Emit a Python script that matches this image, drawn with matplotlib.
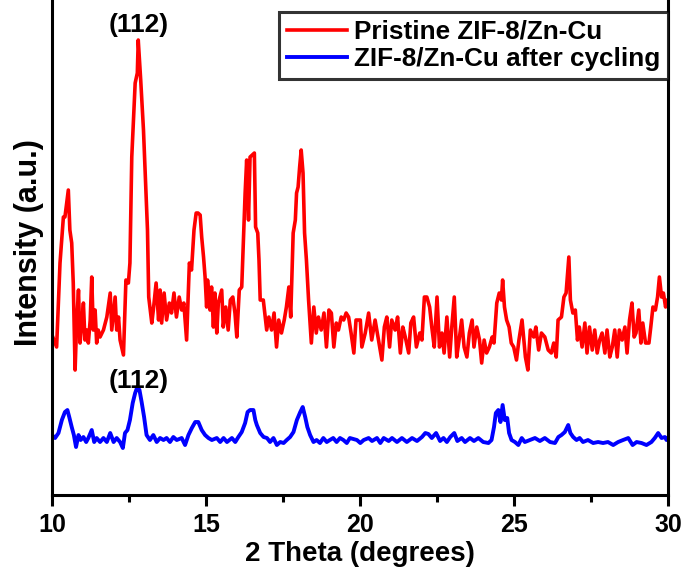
import numpy as np
import matplotlib
matplotlib.use('Agg')
import matplotlib.pyplot as plt
from matplotlib.ticker import MultipleLocator

# XRD patterns, 2 theta (deg) vs intensity (a.u.)
theta_pristine = [
    10.00, 10.15, 10.26, 10.37, 10.42, 10.53, 10.58, 10.64, 10.69, 10.75,
    10.80, 10.86, 10.91, 10.97, 11.02, 11.07, 11.13, 11.18, 11.24, 11.29,
    11.34, 11.40, 11.45, 11.50, 11.56, 11.67, 11.78, 11.89, 11.94, 12.05,
    12.10, 12.16, 12.21, 12.32, 12.40, 12.48, 12.53, 12.59, 12.70, 12.77,
    12.80, 12.88, 12.97, 13.05, 13.10, 13.14, 13.24, 13.29, 13.38, 13.46,
    13.51, 13.56, 13.64, 13.72, 13.81, 13.88, 13.96, 14.04, 14.13, 14.21,
    14.28, 14.37, 14.46, 14.53, 14.61, 14.68, 14.74, 14.81, 14.86, 14.92,
    14.97, 15.02, 15.05, 15.13, 15.18, 15.24, 15.29, 15.35, 15.40, 15.51,
    15.56, 15.64, 15.72, 15.79, 15.87, 15.94, 16.00, 16.08, 16.16, 16.21,
    16.27, 16.32, 16.38, 16.43, 16.50, 16.57, 16.61, 16.68, 16.72, 16.76,
    16.86, 16.97, 17.04, 17.13, 17.21, 17.29, 17.36, 17.45, 17.54, 17.61,
    17.69, 17.75, 17.83, 17.90, 17.94, 17.99, 18.04, 18.09, 18.15, 18.20,
    18.26, 18.33, 18.42, 18.50, 18.58, 18.65, 18.74, 18.83, 18.91, 18.99,
    19.07, 19.15, 19.23, 19.30, 19.39, 19.47, 19.55, 19.63, 19.71, 19.80,
    19.87, 20.01, 20.06, 20.17, 20.28, 20.38, 20.49, 20.60, 20.71, 20.79,
    20.87, 20.96, 21.03, 21.14, 21.22, 21.31, 21.39, 21.47, 21.58, 21.65,
    21.74, 21.83, 21.94, 22.01, 22.09, 22.17, 22.26, 22.33, 22.41, 22.50,
    22.58, 22.66, 22.73, 22.82, 22.91, 22.98, 23.06, 23.14, 23.23, 23.30,
    23.38, 23.47, 23.55, 23.64, 23.70, 23.79, 23.88, 23.95, 24.03, 24.11,
    24.20, 24.29, 24.35, 24.44, 24.52, 24.59, 24.63, 24.69, 24.76, 24.84,
    24.91, 24.99, 25.08, 25.16, 25.26, 25.37, 25.45, 25.53, 25.64, 25.71,
    25.80, 25.89, 26.00, 26.11, 26.21, 26.29, 26.37, 26.43, 26.54, 26.62,
    26.69, 26.78, 26.83, 26.91, 26.99, 27.06, 27.12, 27.21, 27.30, 27.37,
    27.45, 27.54, 27.62, 27.70, 27.78, 27.86, 27.95, 28.02, 28.11, 28.19,
    28.27, 28.35, 28.42, 28.51, 28.60, 28.67, 28.75, 28.83, 28.90, 28.96,
    29.05, 29.12, 29.18, 29.27, 29.38, 29.44, 29.51, 29.59, 29.66, 29.72,
    29.79, 29.85, 29.92, 29.97, 30.00,
]
int_pristine = [
    160, 148, 232, 278, 278, 305, 265, 252, 212, 125,
    172, 205, 152, 172, 192, 155, 165, 152, 175, 218,
    165, 185, 152, 165, 158, 165, 178, 202, 165, 198,
    165, 178, 155, 140, 215, 212, 232, 338, 412, 422,
    455, 415, 365, 305, 265, 198, 172, 185, 212, 175,
    205, 172, 202, 175, 192, 182, 202, 178, 198, 185,
    192, 155, 232, 225, 265, 282, 282, 280, 258, 238,
    218, 188, 215, 185, 208, 168, 202, 162, 192, 205,
    168, 188, 165, 195, 198, 182, 158, 205, 208, 252,
    302, 335, 275, 338, 340, 342, 268, 262, 235, 195,
    195, 165, 178, 165, 182, 148, 175, 162, 175, 188,
    208, 178, 262, 275, 302, 308, 328, 345, 322, 262,
    235, 195, 152, 188, 162, 178, 165, 182, 148, 185,
    182, 148, 172, 165, 178, 175, 182, 178, 162, 142,
    175, 175, 148, 162, 182, 155, 175, 155, 135, 168,
    178, 148, 175, 165, 178, 142, 168, 158, 142, 172,
    178, 148, 162, 155, 198, 198, 188, 168, 148, 198,
    148, 162, 142, 178, 138, 168, 198, 138, 158, 175,
    148, 138, 162, 175, 148, 168, 155, 132, 155, 142,
    148, 158, 152, 192, 202, 195, 215, 188, 175, 168,
    152, 148, 135, 155, 175, 138, 125, 165, 158, 168,
    145, 162, 158, 145, 142, 152, 138, 175, 178, 198,
    202, 238, 195, 182, 185, 155, 168, 148, 172, 142,
    168, 145, 165, 142, 155, 162, 142, 165, 138, 148,
    165, 138, 165, 155, 168, 142, 175, 192, 158, 162,
    185, 152, 172, 152, 152, 168, 188, 185, 198, 218,
    198, 202, 188, 195, 190,
]

theta_cycled = [
    10.00, 10.10, 10.21, 10.32, 10.42, 10.50, 10.56, 10.64, 10.71, 10.78,
    10.86, 10.93, 11.02, 11.11, 11.18, 11.29, 11.37, 11.45, 11.56, 11.67,
    11.78, 11.89, 12.00, 12.10, 12.21, 12.30, 12.37, 12.45, 12.53, 12.62,
    12.70, 12.77, 12.84, 12.91, 12.99, 13.07, 13.18, 13.29, 13.40, 13.51,
    13.62, 13.72, 13.83, 13.94, 14.05, 14.21, 14.32, 14.43, 14.54, 14.65,
    14.75, 14.86, 14.97, 15.08, 15.19, 15.35, 15.46, 15.57, 15.68, 15.84,
    15.95, 16.05, 16.16, 16.27, 16.35, 16.43, 16.54, 16.60, 16.65, 16.76,
    16.87, 16.98, 17.08, 17.19, 17.30, 17.41, 17.52, 17.62, 17.73, 17.84,
    17.95, 18.06, 18.14, 18.22, 18.29, 18.38, 18.49, 18.59, 18.70, 18.81,
    18.92, 19.02, 19.13, 19.24, 19.35, 19.46, 19.57, 19.67, 19.90, 20.01,
    20.12, 20.28, 20.39, 20.55, 20.66, 20.77, 20.93, 21.04, 21.20, 21.36,
    21.52, 21.69, 21.85, 22.01, 22.12, 22.22, 22.33, 22.47, 22.60, 22.71,
    22.82, 22.93, 23.06, 23.16, 23.30, 23.41, 23.57, 23.70, 23.84, 24.00,
    24.17, 24.27, 24.35, 24.41, 24.49, 24.56, 24.63, 24.70, 24.78, 24.84,
    24.92, 25.03, 25.14, 25.25, 25.35, 25.52, 25.68, 25.84, 26.00, 26.17,
    26.33, 26.44, 26.54, 26.65, 26.76, 26.83, 26.92, 27.03, 27.13, 27.24,
    27.40, 27.57, 27.73, 27.89, 28.05, 28.22, 28.38, 28.54, 28.71, 28.85,
    28.98, 29.14, 29.30, 29.46, 29.57, 29.68, 29.79, 29.90, 29.95, 30.00,
]
int_cycled = [
    60, 57, 62, 75, 83, 85, 78, 68, 60, 48,
    60, 55, 58, 53, 57, 65, 53, 57, 53, 57,
    53, 62, 53, 57, 53, 47, 62, 65, 75, 92,
    102, 108, 105, 93, 78, 60, 55, 60, 53, 57,
    55, 57, 53, 58, 55, 57, 50, 60, 67, 73,
    73, 65, 60, 57, 55, 57, 53, 57, 53, 57,
    53, 58, 63, 72, 83, 85, 85, 75, 70, 62,
    58, 57, 53, 57, 50, 53, 52, 55, 58, 63,
    75, 83, 88, 78, 68, 60, 53, 55, 52, 57,
    53, 55, 57, 53, 57, 55, 52, 57, 55, 52,
    55, 57, 54, 57, 52, 57, 54, 57, 53, 57,
    53, 57, 54, 58, 62, 61, 57, 62, 54, 57,
    53, 58, 62, 54, 57, 53, 57, 54, 57, 53,
    52, 55, 68, 82, 85, 73, 90, 75, 77, 62,
    55, 53, 50, 57, 53, 55, 57, 54, 57, 53,
    52, 58, 60, 63, 70, 62, 58, 55, 57, 53,
    55, 52, 53, 52, 53, 50, 53, 55, 57, 50,
    53, 52, 50, 53, 57, 62, 57, 58, 55, 57,
]

peak_label = '(112)'
peak_pos = 12.8

plt.rcParams['font.family'] = ['Liberation Sans', 'DejaVu Sans']
plt.rcParams['font.weight'] = 'bold'

fig = plt.figure(figsize=(6.86, 5.75), dpi=100)
ax = fig.add_axes([0.0758, 0.1391, 0.898, 0.8765])

ax.plot(theta_pristine, int_pristine, color='#ff0000', lw=2.6,
        label='Pristine ZIF-8/Zn-Cu')
ax.plot(theta_cycled, int_cycled, color='#0000ff', lw=2.8,
        label='ZIF-8/Zn-Cu after cycling')

# peak labels
ax.text(peak_pos, 458, peak_label, ha='center', va='bottom',
        fontsize=19, fontweight='bold')
ax.text(peak_pos, 102, peak_label, ha='center', va='bottom',
        fontsize=19, fontweight='bold')

ax.set_xlim(10, 30)
ax.set_ylim(0, 504)
ax.xaxis.set_major_locator(MultipleLocator(5))
ax.xaxis.set_minor_locator(MultipleLocator(2.5))
ax.set_yticks([])

for s in ax.spines.values():
    s.set_linewidth(2.2)
ax.tick_params(axis='x', which='major', direction='out', length=8, width=2.2, pad=5)
ax.tick_params(axis='x', which='minor', direction='out', length=5, width=2.2)
ax.tick_params(axis='x', labelsize=18)

ax.set_xlabel('2 Theta (degrees)', fontsize=20, fontweight='bold', labelpad=3)
ax.set_ylabel('Intensity (a.u.)', fontsize=22, fontweight='bold', labelpad=6)

leg = ax.legend(loc='upper right', bbox_to_anchor=(668 / 686, 1 - 12 / 575),
                bbox_transform=fig.transFigure, borderaxespad=0,
                fontsize=18.8, frameon=True, fancybox=False,
                handlelength=2.3, handletextpad=0.28, labelspacing=0.12,
                borderpad=0.3)
leg.get_frame().set_edgecolor('black')
leg.get_frame().set_linewidth(2.2)
for t in leg.get_texts():
    t.set_fontweight('bold')

fig.savefig('out.png', dpi=100)
